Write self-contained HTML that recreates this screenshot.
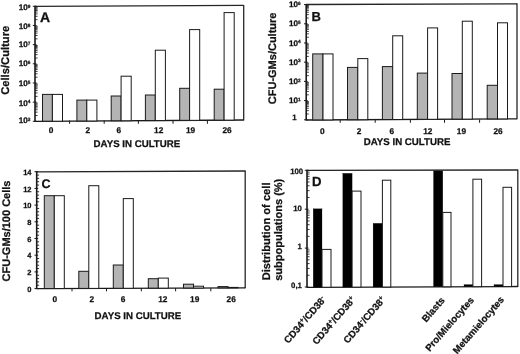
<!DOCTYPE html>
<html><head><meta charset="utf-8"><style>
html,body{margin:0;padding:0;background:#fff;}
body{width:520px;height:354px;overflow:hidden;font-family:"Liberation Sans", sans-serif;}
svg{display:block;filter:grayscale(1);}
</style></head><body>
<svg width="520" height="354" viewBox="0 0 520 354">
<rect width="520" height="354" fill="#ffffff"/>
<g font-family="Liberation Sans, sans-serif" font-weight="bold" fill="#111" stroke="#111" stroke-width="0.25" text-rendering="geometricPrecision">
<line x1="35.00" y1="6.30" x2="243.70" y2="5.40" stroke="#262626" stroke-width="1.3"/>
<line x1="243.70" y1="4.90" x2="243.70" y2="120.50" stroke="#262626" stroke-width="1.3"/>
<line x1="35.00" y1="121.30" x2="243.70" y2="120.00" stroke="#1a1a1a" stroke-width="1.3"/>
<line x1="35.00" y1="5.80" x2="35.00" y2="121.80" stroke="#1a1a1a" stroke-width="1.6"/>
<line x1="32.80" y1="121.30" x2="36.50" y2="121.30" stroke="#1a1a1a" stroke-width="1.0"/>
<line x1="35.00" y1="115.53" x2="37.60" y2="115.53" stroke="#1a1a1a" stroke-width="0.85"/>
<line x1="35.00" y1="112.15" x2="37.60" y2="112.15" stroke="#1a1a1a" stroke-width="0.85"/>
<line x1="35.00" y1="109.76" x2="37.60" y2="109.76" stroke="#1a1a1a" stroke-width="0.85"/>
<line x1="35.00" y1="107.90" x2="37.60" y2="107.90" stroke="#1a1a1a" stroke-width="0.85"/>
<line x1="35.00" y1="106.38" x2="37.60" y2="106.38" stroke="#1a1a1a" stroke-width="0.85"/>
<line x1="35.00" y1="105.10" x2="37.60" y2="105.10" stroke="#1a1a1a" stroke-width="0.85"/>
<line x1="35.00" y1="103.99" x2="37.60" y2="103.99" stroke="#1a1a1a" stroke-width="0.85"/>
<line x1="35.00" y1="103.01" x2="37.60" y2="103.01" stroke="#1a1a1a" stroke-width="0.85"/>
<line x1="32.80" y1="102.13" x2="36.50" y2="102.13" stroke="#1a1a1a" stroke-width="1.0"/>
<line x1="35.00" y1="96.36" x2="37.60" y2="96.36" stroke="#1a1a1a" stroke-width="0.85"/>
<line x1="35.00" y1="92.98" x2="37.60" y2="92.98" stroke="#1a1a1a" stroke-width="0.85"/>
<line x1="35.00" y1="90.59" x2="37.60" y2="90.59" stroke="#1a1a1a" stroke-width="0.85"/>
<line x1="35.00" y1="88.73" x2="37.60" y2="88.73" stroke="#1a1a1a" stroke-width="0.85"/>
<line x1="35.00" y1="87.21" x2="37.60" y2="87.21" stroke="#1a1a1a" stroke-width="0.85"/>
<line x1="35.00" y1="85.93" x2="37.60" y2="85.93" stroke="#1a1a1a" stroke-width="0.85"/>
<line x1="35.00" y1="84.82" x2="37.60" y2="84.82" stroke="#1a1a1a" stroke-width="0.85"/>
<line x1="35.00" y1="83.84" x2="37.60" y2="83.84" stroke="#1a1a1a" stroke-width="0.85"/>
<line x1="32.80" y1="82.96" x2="36.50" y2="82.96" stroke="#1a1a1a" stroke-width="1.0"/>
<line x1="35.00" y1="77.19" x2="37.60" y2="77.19" stroke="#1a1a1a" stroke-width="0.85"/>
<line x1="35.00" y1="73.81" x2="37.60" y2="73.81" stroke="#1a1a1a" stroke-width="0.85"/>
<line x1="35.00" y1="71.42" x2="37.60" y2="71.42" stroke="#1a1a1a" stroke-width="0.85"/>
<line x1="35.00" y1="69.56" x2="37.60" y2="69.56" stroke="#1a1a1a" stroke-width="0.85"/>
<line x1="35.00" y1="68.04" x2="37.60" y2="68.04" stroke="#1a1a1a" stroke-width="0.85"/>
<line x1="35.00" y1="66.76" x2="37.60" y2="66.76" stroke="#1a1a1a" stroke-width="0.85"/>
<line x1="35.00" y1="65.65" x2="37.60" y2="65.65" stroke="#1a1a1a" stroke-width="0.85"/>
<line x1="35.00" y1="64.67" x2="37.60" y2="64.67" stroke="#1a1a1a" stroke-width="0.85"/>
<line x1="32.80" y1="63.79" x2="36.50" y2="63.79" stroke="#1a1a1a" stroke-width="1.0"/>
<line x1="35.00" y1="58.02" x2="37.60" y2="58.02" stroke="#1a1a1a" stroke-width="0.85"/>
<line x1="35.00" y1="54.64" x2="37.60" y2="54.64" stroke="#1a1a1a" stroke-width="0.85"/>
<line x1="35.00" y1="52.25" x2="37.60" y2="52.25" stroke="#1a1a1a" stroke-width="0.85"/>
<line x1="35.00" y1="50.39" x2="37.60" y2="50.39" stroke="#1a1a1a" stroke-width="0.85"/>
<line x1="35.00" y1="48.87" x2="37.60" y2="48.87" stroke="#1a1a1a" stroke-width="0.85"/>
<line x1="35.00" y1="47.59" x2="37.60" y2="47.59" stroke="#1a1a1a" stroke-width="0.85"/>
<line x1="35.00" y1="46.48" x2="37.60" y2="46.48" stroke="#1a1a1a" stroke-width="0.85"/>
<line x1="35.00" y1="45.50" x2="37.60" y2="45.50" stroke="#1a1a1a" stroke-width="0.85"/>
<line x1="32.80" y1="44.62" x2="36.50" y2="44.62" stroke="#1a1a1a" stroke-width="1.0"/>
<line x1="35.00" y1="38.85" x2="37.60" y2="38.85" stroke="#1a1a1a" stroke-width="0.85"/>
<line x1="35.00" y1="35.47" x2="37.60" y2="35.47" stroke="#1a1a1a" stroke-width="0.85"/>
<line x1="35.00" y1="33.08" x2="37.60" y2="33.08" stroke="#1a1a1a" stroke-width="0.85"/>
<line x1="35.00" y1="31.22" x2="37.60" y2="31.22" stroke="#1a1a1a" stroke-width="0.85"/>
<line x1="35.00" y1="29.70" x2="37.60" y2="29.70" stroke="#1a1a1a" stroke-width="0.85"/>
<line x1="35.00" y1="28.42" x2="37.60" y2="28.42" stroke="#1a1a1a" stroke-width="0.85"/>
<line x1="35.00" y1="27.31" x2="37.60" y2="27.31" stroke="#1a1a1a" stroke-width="0.85"/>
<line x1="35.00" y1="26.33" x2="37.60" y2="26.33" stroke="#1a1a1a" stroke-width="0.85"/>
<line x1="32.80" y1="25.45" x2="36.50" y2="25.45" stroke="#1a1a1a" stroke-width="1.0"/>
<line x1="35.00" y1="19.68" x2="37.60" y2="19.68" stroke="#1a1a1a" stroke-width="0.85"/>
<line x1="35.00" y1="16.30" x2="37.60" y2="16.30" stroke="#1a1a1a" stroke-width="0.85"/>
<line x1="35.00" y1="13.91" x2="37.60" y2="13.91" stroke="#1a1a1a" stroke-width="0.85"/>
<line x1="35.00" y1="12.05" x2="37.60" y2="12.05" stroke="#1a1a1a" stroke-width="0.85"/>
<line x1="35.00" y1="10.53" x2="37.60" y2="10.53" stroke="#1a1a1a" stroke-width="0.85"/>
<line x1="35.00" y1="9.25" x2="37.60" y2="9.25" stroke="#1a1a1a" stroke-width="0.85"/>
<line x1="35.00" y1="8.14" x2="37.60" y2="8.14" stroke="#1a1a1a" stroke-width="0.85"/>
<line x1="35.00" y1="7.16" x2="37.60" y2="7.16" stroke="#1a1a1a" stroke-width="0.85"/>
<line x1="32.80" y1="6.28" x2="36.50" y2="6.28" stroke="#1a1a1a" stroke-width="1.0"/>
<text x="30.40" y="123.40" font-size="8.1" text-anchor="end">10<tspan font-size="4.7" dy="-2.4">3</tspan></text>
<text x="30.40" y="105.60" font-size="8.1" text-anchor="end">10<tspan font-size="4.7" dy="-2.4">4</tspan></text>
<text x="30.40" y="86.00" font-size="8.1" text-anchor="end">10<tspan font-size="4.7" dy="-2.4">5</tspan></text>
<text x="30.40" y="66.00" font-size="8.1" text-anchor="end">10<tspan font-size="4.7" dy="-2.4">6</tspan></text>
<text x="30.40" y="47.00" font-size="8.1" text-anchor="end">10<tspan font-size="4.7" dy="-2.4">7</tspan></text>
<text x="30.40" y="29.00" font-size="8.1" text-anchor="end">10<tspan font-size="4.7" dy="-2.4">8</tspan></text>
<text x="30.40" y="10.40" font-size="8.1" text-anchor="end">10<tspan font-size="4.7" dy="-2.4">9</tspan></text>
<line x1="69.60" y1="120.50" x2="69.60" y2="123.80" stroke="#1a1a1a" stroke-width="1.0"/>
<line x1="104.20" y1="120.50" x2="104.20" y2="123.80" stroke="#1a1a1a" stroke-width="1.0"/>
<line x1="138.40" y1="120.50" x2="138.40" y2="123.80" stroke="#1a1a1a" stroke-width="1.0"/>
<line x1="173.00" y1="120.50" x2="173.00" y2="123.80" stroke="#1a1a1a" stroke-width="1.0"/>
<line x1="207.40" y1="120.50" x2="207.40" y2="123.80" stroke="#1a1a1a" stroke-width="1.0"/>
<rect x="42.50" y="94.40" width="9.90" height="26.79" fill="#b4b4b4" stroke="#1a1a1a" stroke-width="1.0"/>
<rect x="52.40" y="94.40" width="10.10" height="26.79" fill="#fff" stroke="#1a1a1a" stroke-width="1.0"/>
<rect x="76.90" y="100.10" width="9.90" height="20.88" fill="#b4b4b4" stroke="#1a1a1a" stroke-width="1.0"/>
<rect x="86.80" y="100.10" width="10.10" height="20.88" fill="#fff" stroke="#1a1a1a" stroke-width="1.0"/>
<rect x="111.20" y="96.00" width="9.90" height="24.76" fill="#b4b4b4" stroke="#1a1a1a" stroke-width="1.0"/>
<rect x="121.10" y="76.20" width="10.10" height="44.56" fill="#fff" stroke="#1a1a1a" stroke-width="1.0"/>
<rect x="145.40" y="95.00" width="9.90" height="25.55" fill="#b4b4b4" stroke="#1a1a1a" stroke-width="1.0"/>
<rect x="155.30" y="50.20" width="10.10" height="70.35" fill="#fff" stroke="#1a1a1a" stroke-width="1.0"/>
<rect x="179.70" y="88.30" width="9.90" height="32.04" fill="#b4b4b4" stroke="#1a1a1a" stroke-width="1.0"/>
<rect x="189.60" y="29.60" width="10.10" height="90.74" fill="#fff" stroke="#1a1a1a" stroke-width="1.0"/>
<rect x="214.20" y="89.20" width="9.90" height="30.92" fill="#b4b4b4" stroke="#1a1a1a" stroke-width="1.0"/>
<rect x="224.10" y="12.60" width="10.10" height="107.52" fill="#fff" stroke="#1a1a1a" stroke-width="1.0"/>
<text x="51.10" y="133.00" font-size="8.3" text-anchor="middle" >0</text>
<text x="87.90" y="133.00" font-size="8.3" text-anchor="middle" >2</text>
<text x="118.80" y="133.00" font-size="8.3" text-anchor="middle" >6</text>
<text x="158.70" y="133.00" font-size="8.3" text-anchor="middle" >12</text>
<text x="190.50" y="133.00" font-size="8.3" text-anchor="middle" >19</text>
<text x="227.00" y="133.00" font-size="8.3" text-anchor="middle" >26</text>
<text x="136.90" y="146.60" font-size="9.7" text-anchor="middle" >DAYS IN CULTURE</text>
<text x="40.00" y="22.30" font-size="14" text-anchor="start" stroke="#111" stroke-width="0.3">A</text>
<text x="0" y="0" font-size="11.2" text-anchor="middle" transform="translate(9.2,60.3) rotate(-90)">Cells/Culture</text>
<line x1="306.20" y1="4.50" x2="517.00" y2="3.80" stroke="#262626" stroke-width="1.3"/>
<line x1="517.00" y1="3.30" x2="517.00" y2="119.30" stroke="#262626" stroke-width="1.3"/>
<line x1="306.20" y1="120.00" x2="517.00" y2="118.80" stroke="#1a1a1a" stroke-width="1.3"/>
<line x1="306.20" y1="4.00" x2="306.20" y2="120.50" stroke="#1a1a1a" stroke-width="1.6"/>
<line x1="304.00" y1="119.80" x2="307.70" y2="119.80" stroke="#1a1a1a" stroke-width="1.0"/>
<line x1="306.20" y1="114.02" x2="308.80" y2="114.02" stroke="#1a1a1a" stroke-width="0.85"/>
<line x1="306.20" y1="110.64" x2="308.80" y2="110.64" stroke="#1a1a1a" stroke-width="0.85"/>
<line x1="306.20" y1="108.24" x2="308.80" y2="108.24" stroke="#1a1a1a" stroke-width="0.85"/>
<line x1="306.20" y1="106.38" x2="308.80" y2="106.38" stroke="#1a1a1a" stroke-width="0.85"/>
<line x1="306.20" y1="104.86" x2="308.80" y2="104.86" stroke="#1a1a1a" stroke-width="0.85"/>
<line x1="306.20" y1="103.57" x2="308.80" y2="103.57" stroke="#1a1a1a" stroke-width="0.85"/>
<line x1="306.20" y1="102.46" x2="308.80" y2="102.46" stroke="#1a1a1a" stroke-width="0.85"/>
<line x1="306.20" y1="101.48" x2="308.80" y2="101.48" stroke="#1a1a1a" stroke-width="0.85"/>
<line x1="304.00" y1="100.60" x2="307.70" y2="100.60" stroke="#1a1a1a" stroke-width="1.0"/>
<line x1="306.20" y1="94.82" x2="308.80" y2="94.82" stroke="#1a1a1a" stroke-width="0.85"/>
<line x1="306.20" y1="91.44" x2="308.80" y2="91.44" stroke="#1a1a1a" stroke-width="0.85"/>
<line x1="306.20" y1="89.04" x2="308.80" y2="89.04" stroke="#1a1a1a" stroke-width="0.85"/>
<line x1="306.20" y1="87.18" x2="308.80" y2="87.18" stroke="#1a1a1a" stroke-width="0.85"/>
<line x1="306.20" y1="85.66" x2="308.80" y2="85.66" stroke="#1a1a1a" stroke-width="0.85"/>
<line x1="306.20" y1="84.37" x2="308.80" y2="84.37" stroke="#1a1a1a" stroke-width="0.85"/>
<line x1="306.20" y1="83.26" x2="308.80" y2="83.26" stroke="#1a1a1a" stroke-width="0.85"/>
<line x1="306.20" y1="82.28" x2="308.80" y2="82.28" stroke="#1a1a1a" stroke-width="0.85"/>
<line x1="304.00" y1="81.40" x2="307.70" y2="81.40" stroke="#1a1a1a" stroke-width="1.0"/>
<line x1="306.20" y1="75.62" x2="308.80" y2="75.62" stroke="#1a1a1a" stroke-width="0.85"/>
<line x1="306.20" y1="72.24" x2="308.80" y2="72.24" stroke="#1a1a1a" stroke-width="0.85"/>
<line x1="306.20" y1="69.84" x2="308.80" y2="69.84" stroke="#1a1a1a" stroke-width="0.85"/>
<line x1="306.20" y1="67.98" x2="308.80" y2="67.98" stroke="#1a1a1a" stroke-width="0.85"/>
<line x1="306.20" y1="66.46" x2="308.80" y2="66.46" stroke="#1a1a1a" stroke-width="0.85"/>
<line x1="306.20" y1="65.17" x2="308.80" y2="65.17" stroke="#1a1a1a" stroke-width="0.85"/>
<line x1="306.20" y1="64.06" x2="308.80" y2="64.06" stroke="#1a1a1a" stroke-width="0.85"/>
<line x1="306.20" y1="63.08" x2="308.80" y2="63.08" stroke="#1a1a1a" stroke-width="0.85"/>
<line x1="304.00" y1="62.20" x2="307.70" y2="62.20" stroke="#1a1a1a" stroke-width="1.0"/>
<line x1="306.20" y1="56.42" x2="308.80" y2="56.42" stroke="#1a1a1a" stroke-width="0.85"/>
<line x1="306.20" y1="53.04" x2="308.80" y2="53.04" stroke="#1a1a1a" stroke-width="0.85"/>
<line x1="306.20" y1="50.64" x2="308.80" y2="50.64" stroke="#1a1a1a" stroke-width="0.85"/>
<line x1="306.20" y1="48.78" x2="308.80" y2="48.78" stroke="#1a1a1a" stroke-width="0.85"/>
<line x1="306.20" y1="47.26" x2="308.80" y2="47.26" stroke="#1a1a1a" stroke-width="0.85"/>
<line x1="306.20" y1="45.97" x2="308.80" y2="45.97" stroke="#1a1a1a" stroke-width="0.85"/>
<line x1="306.20" y1="44.86" x2="308.80" y2="44.86" stroke="#1a1a1a" stroke-width="0.85"/>
<line x1="306.20" y1="43.88" x2="308.80" y2="43.88" stroke="#1a1a1a" stroke-width="0.85"/>
<line x1="304.00" y1="43.00" x2="307.70" y2="43.00" stroke="#1a1a1a" stroke-width="1.0"/>
<line x1="306.20" y1="37.22" x2="308.80" y2="37.22" stroke="#1a1a1a" stroke-width="0.85"/>
<line x1="306.20" y1="33.84" x2="308.80" y2="33.84" stroke="#1a1a1a" stroke-width="0.85"/>
<line x1="306.20" y1="31.44" x2="308.80" y2="31.44" stroke="#1a1a1a" stroke-width="0.85"/>
<line x1="306.20" y1="29.58" x2="308.80" y2="29.58" stroke="#1a1a1a" stroke-width="0.85"/>
<line x1="306.20" y1="28.06" x2="308.80" y2="28.06" stroke="#1a1a1a" stroke-width="0.85"/>
<line x1="306.20" y1="26.77" x2="308.80" y2="26.77" stroke="#1a1a1a" stroke-width="0.85"/>
<line x1="306.20" y1="25.66" x2="308.80" y2="25.66" stroke="#1a1a1a" stroke-width="0.85"/>
<line x1="306.20" y1="24.68" x2="308.80" y2="24.68" stroke="#1a1a1a" stroke-width="0.85"/>
<line x1="304.00" y1="23.80" x2="307.70" y2="23.80" stroke="#1a1a1a" stroke-width="1.0"/>
<line x1="306.20" y1="18.02" x2="308.80" y2="18.02" stroke="#1a1a1a" stroke-width="0.85"/>
<line x1="306.20" y1="14.64" x2="308.80" y2="14.64" stroke="#1a1a1a" stroke-width="0.85"/>
<line x1="306.20" y1="12.24" x2="308.80" y2="12.24" stroke="#1a1a1a" stroke-width="0.85"/>
<line x1="306.20" y1="10.38" x2="308.80" y2="10.38" stroke="#1a1a1a" stroke-width="0.85"/>
<line x1="306.20" y1="8.86" x2="308.80" y2="8.86" stroke="#1a1a1a" stroke-width="0.85"/>
<line x1="306.20" y1="7.57" x2="308.80" y2="7.57" stroke="#1a1a1a" stroke-width="0.85"/>
<line x1="306.20" y1="6.46" x2="308.80" y2="6.46" stroke="#1a1a1a" stroke-width="0.85"/>
<line x1="306.20" y1="5.48" x2="308.80" y2="5.48" stroke="#1a1a1a" stroke-width="0.85"/>
<line x1="304.00" y1="4.60" x2="307.70" y2="4.60" stroke="#1a1a1a" stroke-width="1.0"/>
<text x="296.60" y="119.60" font-size="7.8" text-anchor="end" >1</text>
<text x="300.60" y="103.20" font-size="8.1" text-anchor="end">10<tspan font-size="4.7" dy="-2.4">1</tspan></text>
<text x="300.60" y="84.00" font-size="8.1" text-anchor="end">10<tspan font-size="4.7" dy="-2.4">2</tspan></text>
<text x="300.60" y="64.80" font-size="8.1" text-anchor="end">10<tspan font-size="4.7" dy="-2.4">3</tspan></text>
<text x="300.60" y="45.60" font-size="8.1" text-anchor="end">10<tspan font-size="4.7" dy="-2.4">4</tspan></text>
<text x="300.60" y="26.40" font-size="8.1" text-anchor="end">10<tspan font-size="4.7" dy="-2.4">5</tspan></text>
<text x="300.60" y="7.20" font-size="8.1" text-anchor="end">10<tspan font-size="4.7" dy="-2.4">6</tspan></text>
<line x1="340.20" y1="119.50" x2="340.20" y2="122.80" stroke="#1a1a1a" stroke-width="1.0"/>
<line x1="375.20" y1="119.50" x2="375.20" y2="122.80" stroke="#1a1a1a" stroke-width="1.0"/>
<line x1="410.40" y1="119.50" x2="410.40" y2="122.80" stroke="#1a1a1a" stroke-width="1.0"/>
<line x1="444.50" y1="119.50" x2="444.50" y2="122.80" stroke="#1a1a1a" stroke-width="1.0"/>
<line x1="479.60" y1="119.50" x2="479.60" y2="122.80" stroke="#1a1a1a" stroke-width="1.0"/>
<rect x="312.70" y="53.90" width="10.30" height="66.01" fill="#b4b4b4" stroke="#1a1a1a" stroke-width="1.0"/>
<rect x="323.00" y="53.90" width="10.00" height="66.01" fill="#fff" stroke="#1a1a1a" stroke-width="1.0"/>
<rect x="347.50" y="67.40" width="10.30" height="52.31" fill="#b4b4b4" stroke="#1a1a1a" stroke-width="1.0"/>
<rect x="357.80" y="58.60" width="10.00" height="61.11" fill="#fff" stroke="#1a1a1a" stroke-width="1.0"/>
<rect x="382.40" y="66.60" width="10.30" height="52.91" fill="#b4b4b4" stroke="#1a1a1a" stroke-width="1.0"/>
<rect x="392.70" y="35.80" width="10.00" height="83.71" fill="#fff" stroke="#1a1a1a" stroke-width="1.0"/>
<rect x="417.30" y="73.10" width="10.30" height="46.21" fill="#b4b4b4" stroke="#1a1a1a" stroke-width="1.0"/>
<rect x="427.60" y="27.90" width="10.00" height="91.41" fill="#fff" stroke="#1a1a1a" stroke-width="1.0"/>
<rect x="452.00" y="73.50" width="10.30" height="45.61" fill="#b4b4b4" stroke="#1a1a1a" stroke-width="1.0"/>
<rect x="462.30" y="21.20" width="10.00" height="97.91" fill="#fff" stroke="#1a1a1a" stroke-width="1.0"/>
<rect x="487.20" y="85.30" width="10.30" height="33.61" fill="#b4b4b4" stroke="#1a1a1a" stroke-width="1.0"/>
<rect x="497.50" y="22.80" width="10.00" height="96.11" fill="#fff" stroke="#1a1a1a" stroke-width="1.0"/>
<text x="322.30" y="134.20" font-size="8.3" text-anchor="middle" >0</text>
<text x="359.00" y="134.20" font-size="8.3" text-anchor="middle" >2</text>
<text x="391.70" y="134.20" font-size="8.3" text-anchor="middle" >6</text>
<text x="427.80" y="134.20" font-size="8.3" text-anchor="middle" >12</text>
<text x="461.40" y="134.20" font-size="8.3" text-anchor="middle" >19</text>
<text x="498.00" y="134.20" font-size="8.3" text-anchor="middle" >26</text>
<text x="407.10" y="145.40" font-size="9.7" text-anchor="middle" >DAYS IN CULTURE</text>
<text x="311.60" y="20.80" font-size="13" text-anchor="start" >B</text>
<text x="0" y="0" font-size="11" text-anchor="middle" transform="translate(275.8,58.4) rotate(-90)">CFU-GMs/Culture</text>
<line x1="36.70" y1="171.80" x2="245.20" y2="171.00" stroke="#262626" stroke-width="1.3"/>
<line x1="245.20" y1="170.50" x2="245.20" y2="288.30" stroke="#262626" stroke-width="1.3"/>
<line x1="36.70" y1="288.60" x2="245.20" y2="287.80" stroke="#1a1a1a" stroke-width="1.3"/>
<line x1="36.70" y1="171.30" x2="36.70" y2="289.10" stroke="#1a1a1a" stroke-width="1.6"/>
<line x1="34.50" y1="288.60" x2="38.20" y2="288.60" stroke="#1a1a1a" stroke-width="1.0"/>
<text x="31.50" y="291.80" font-size="7.5" text-anchor="end" >0</text>
<line x1="34.50" y1="271.90" x2="38.20" y2="271.90" stroke="#1a1a1a" stroke-width="1.0"/>
<text x="31.50" y="275.10" font-size="7.5" text-anchor="end" >2</text>
<line x1="34.50" y1="255.20" x2="38.20" y2="255.20" stroke="#1a1a1a" stroke-width="1.0"/>
<text x="31.50" y="258.40" font-size="7.5" text-anchor="end" >4</text>
<line x1="34.50" y1="238.50" x2="38.20" y2="238.50" stroke="#1a1a1a" stroke-width="1.0"/>
<text x="31.50" y="241.70" font-size="7.5" text-anchor="end" >6</text>
<line x1="34.50" y1="221.80" x2="38.20" y2="221.80" stroke="#1a1a1a" stroke-width="1.0"/>
<text x="31.50" y="225.00" font-size="7.5" text-anchor="end" >8</text>
<line x1="34.50" y1="205.10" x2="38.20" y2="205.10" stroke="#1a1a1a" stroke-width="1.0"/>
<text x="31.50" y="208.30" font-size="7.5" text-anchor="end" >10</text>
<line x1="34.50" y1="188.40" x2="38.20" y2="188.40" stroke="#1a1a1a" stroke-width="1.0"/>
<text x="31.50" y="191.60" font-size="7.5" text-anchor="end" >12</text>
<line x1="34.50" y1="171.70" x2="38.20" y2="171.70" stroke="#1a1a1a" stroke-width="1.0"/>
<text x="31.50" y="174.90" font-size="7.5" text-anchor="end" >14</text>
<line x1="36.70" y1="285.26" x2="39.10" y2="285.26" stroke="#1a1a1a" stroke-width="0.9"/>
<line x1="36.70" y1="281.92" x2="39.10" y2="281.92" stroke="#1a1a1a" stroke-width="0.9"/>
<line x1="36.70" y1="278.58" x2="39.10" y2="278.58" stroke="#1a1a1a" stroke-width="0.9"/>
<line x1="36.70" y1="275.24" x2="39.10" y2="275.24" stroke="#1a1a1a" stroke-width="0.9"/>
<line x1="36.70" y1="268.56" x2="39.10" y2="268.56" stroke="#1a1a1a" stroke-width="0.9"/>
<line x1="36.70" y1="265.22" x2="39.10" y2="265.22" stroke="#1a1a1a" stroke-width="0.9"/>
<line x1="36.70" y1="261.88" x2="39.10" y2="261.88" stroke="#1a1a1a" stroke-width="0.9"/>
<line x1="36.70" y1="258.54" x2="39.10" y2="258.54" stroke="#1a1a1a" stroke-width="0.9"/>
<line x1="36.70" y1="251.86" x2="39.10" y2="251.86" stroke="#1a1a1a" stroke-width="0.9"/>
<line x1="36.70" y1="248.52" x2="39.10" y2="248.52" stroke="#1a1a1a" stroke-width="0.9"/>
<line x1="36.70" y1="245.18" x2="39.10" y2="245.18" stroke="#1a1a1a" stroke-width="0.9"/>
<line x1="36.70" y1="241.84" x2="39.10" y2="241.84" stroke="#1a1a1a" stroke-width="0.9"/>
<line x1="36.70" y1="235.16" x2="39.10" y2="235.16" stroke="#1a1a1a" stroke-width="0.9"/>
<line x1="36.70" y1="231.82" x2="39.10" y2="231.82" stroke="#1a1a1a" stroke-width="0.9"/>
<line x1="36.70" y1="228.48" x2="39.10" y2="228.48" stroke="#1a1a1a" stroke-width="0.9"/>
<line x1="36.70" y1="225.14" x2="39.10" y2="225.14" stroke="#1a1a1a" stroke-width="0.9"/>
<line x1="36.70" y1="218.46" x2="39.10" y2="218.46" stroke="#1a1a1a" stroke-width="0.9"/>
<line x1="36.70" y1="215.12" x2="39.10" y2="215.12" stroke="#1a1a1a" stroke-width="0.9"/>
<line x1="36.70" y1="211.78" x2="39.10" y2="211.78" stroke="#1a1a1a" stroke-width="0.9"/>
<line x1="36.70" y1="208.44" x2="39.10" y2="208.44" stroke="#1a1a1a" stroke-width="0.9"/>
<line x1="36.70" y1="201.76" x2="39.10" y2="201.76" stroke="#1a1a1a" stroke-width="0.9"/>
<line x1="36.70" y1="198.42" x2="39.10" y2="198.42" stroke="#1a1a1a" stroke-width="0.9"/>
<line x1="36.70" y1="195.08" x2="39.10" y2="195.08" stroke="#1a1a1a" stroke-width="0.9"/>
<line x1="36.70" y1="191.74" x2="39.10" y2="191.74" stroke="#1a1a1a" stroke-width="0.9"/>
<line x1="36.70" y1="185.06" x2="39.10" y2="185.06" stroke="#1a1a1a" stroke-width="0.9"/>
<line x1="36.70" y1="181.72" x2="39.10" y2="181.72" stroke="#1a1a1a" stroke-width="0.9"/>
<line x1="36.70" y1="178.38" x2="39.10" y2="178.38" stroke="#1a1a1a" stroke-width="0.9"/>
<line x1="36.70" y1="175.04" x2="39.10" y2="175.04" stroke="#1a1a1a" stroke-width="0.9"/>
<line x1="72.00" y1="288.00" x2="72.00" y2="291.30" stroke="#1a1a1a" stroke-width="1.0"/>
<line x1="106.50" y1="288.00" x2="106.50" y2="291.30" stroke="#1a1a1a" stroke-width="1.0"/>
<line x1="141.30" y1="288.00" x2="141.30" y2="291.30" stroke="#1a1a1a" stroke-width="1.0"/>
<line x1="175.60" y1="288.00" x2="175.60" y2="291.30" stroke="#1a1a1a" stroke-width="1.0"/>
<line x1="210.80" y1="288.00" x2="210.80" y2="291.30" stroke="#1a1a1a" stroke-width="1.0"/>
<rect x="44.30" y="195.70" width="10.00" height="92.83" fill="#b4b4b4" stroke="#1a1a1a" stroke-width="1.0"/>
<rect x="54.30" y="195.70" width="10.00" height="92.83" fill="#fff" stroke="#1a1a1a" stroke-width="1.0"/>
<rect x="78.80" y="271.30" width="10.00" height="17.10" fill="#b4b4b4" stroke="#1a1a1a" stroke-width="1.0"/>
<rect x="88.80" y="185.70" width="10.00" height="102.70" fill="#fff" stroke="#1a1a1a" stroke-width="1.0"/>
<rect x="113.30" y="265.00" width="10.00" height="23.27" fill="#b4b4b4" stroke="#1a1a1a" stroke-width="1.0"/>
<rect x="123.30" y="198.60" width="10.00" height="89.67" fill="#fff" stroke="#1a1a1a" stroke-width="1.0"/>
<rect x="148.30" y="278.70" width="10.00" height="9.43" fill="#b4b4b4" stroke="#1a1a1a" stroke-width="1.0"/>
<rect x="158.30" y="278.10" width="10.00" height="10.03" fill="#fff" stroke="#1a1a1a" stroke-width="1.0"/>
<rect x="183.50" y="284.20" width="10.00" height="3.80" fill="#b4b4b4" stroke="#1a1a1a" stroke-width="1.0"/>
<rect x="193.50" y="286.20" width="10.00" height="1.80" fill="#fff" stroke="#1a1a1a" stroke-width="1.0"/>
<rect x="218.00" y="286.60" width="10.00" height="1.27" fill="#b4b4b4" stroke="#1a1a1a" stroke-width="1.0"/>
<rect x="228.00" y="287.40" width="10.00" height="0.47" fill="#fff" stroke="#1a1a1a" stroke-width="1.0"/>
<text x="54.80" y="302.20" font-size="8.3" text-anchor="middle" >0</text>
<text x="91.80" y="302.20" font-size="8.3" text-anchor="middle" >2</text>
<text x="123.10" y="302.20" font-size="8.3" text-anchor="middle" >6</text>
<text x="162.80" y="302.20" font-size="8.3" text-anchor="middle" >12</text>
<text x="194.70" y="302.20" font-size="8.3" text-anchor="middle" >19</text>
<text x="231.20" y="302.20" font-size="8.3" text-anchor="middle" >26</text>
<text x="137.90" y="318.70" font-size="9.7" text-anchor="middle" >DAYS IN CULTURE</text>
<text x="41.40" y="188.00" font-size="12.5" text-anchor="start" >C</text>
<text x="0" y="0" font-size="11" text-anchor="middle" transform="translate(10.2,231) rotate(-90)">CFU-GMs/100 Cells</text>
<line x1="307.00" y1="170.30" x2="517.80" y2="170.00" stroke="#262626" stroke-width="1.3"/>
<line x1="517.80" y1="169.50" x2="517.80" y2="287.00" stroke="#262626" stroke-width="1.3"/>
<line x1="307.00" y1="287.30" x2="517.80" y2="286.50" stroke="#1a1a1a" stroke-width="1.3"/>
<line x1="307.00" y1="169.80" x2="307.00" y2="287.80" stroke="#1a1a1a" stroke-width="1.6"/>
<line x1="304.80" y1="287.00" x2="308.50" y2="287.00" stroke="#1a1a1a" stroke-width="1.0"/>
<line x1="307.00" y1="275.29" x2="309.60" y2="275.29" stroke="#1a1a1a" stroke-width="0.85"/>
<line x1="307.00" y1="268.44" x2="309.60" y2="268.44" stroke="#1a1a1a" stroke-width="0.85"/>
<line x1="307.00" y1="263.58" x2="309.60" y2="263.58" stroke="#1a1a1a" stroke-width="0.85"/>
<line x1="307.00" y1="259.81" x2="309.60" y2="259.81" stroke="#1a1a1a" stroke-width="0.85"/>
<line x1="307.00" y1="256.73" x2="309.60" y2="256.73" stroke="#1a1a1a" stroke-width="0.85"/>
<line x1="307.00" y1="254.13" x2="309.60" y2="254.13" stroke="#1a1a1a" stroke-width="0.85"/>
<line x1="307.00" y1="251.87" x2="309.60" y2="251.87" stroke="#1a1a1a" stroke-width="0.85"/>
<line x1="307.00" y1="249.88" x2="309.60" y2="249.88" stroke="#1a1a1a" stroke-width="0.85"/>
<line x1="304.80" y1="248.10" x2="308.50" y2="248.10" stroke="#1a1a1a" stroke-width="1.0"/>
<line x1="307.00" y1="236.39" x2="309.60" y2="236.39" stroke="#1a1a1a" stroke-width="0.85"/>
<line x1="307.00" y1="229.54" x2="309.60" y2="229.54" stroke="#1a1a1a" stroke-width="0.85"/>
<line x1="307.00" y1="224.68" x2="309.60" y2="224.68" stroke="#1a1a1a" stroke-width="0.85"/>
<line x1="307.00" y1="220.91" x2="309.60" y2="220.91" stroke="#1a1a1a" stroke-width="0.85"/>
<line x1="307.00" y1="217.83" x2="309.60" y2="217.83" stroke="#1a1a1a" stroke-width="0.85"/>
<line x1="307.00" y1="215.23" x2="309.60" y2="215.23" stroke="#1a1a1a" stroke-width="0.85"/>
<line x1="307.00" y1="212.97" x2="309.60" y2="212.97" stroke="#1a1a1a" stroke-width="0.85"/>
<line x1="307.00" y1="210.98" x2="309.60" y2="210.98" stroke="#1a1a1a" stroke-width="0.85"/>
<line x1="304.80" y1="209.20" x2="308.50" y2="209.20" stroke="#1a1a1a" stroke-width="1.0"/>
<line x1="307.00" y1="197.49" x2="309.60" y2="197.49" stroke="#1a1a1a" stroke-width="0.85"/>
<line x1="307.00" y1="190.64" x2="309.60" y2="190.64" stroke="#1a1a1a" stroke-width="0.85"/>
<line x1="307.00" y1="185.78" x2="309.60" y2="185.78" stroke="#1a1a1a" stroke-width="0.85"/>
<line x1="307.00" y1="182.01" x2="309.60" y2="182.01" stroke="#1a1a1a" stroke-width="0.85"/>
<line x1="307.00" y1="178.93" x2="309.60" y2="178.93" stroke="#1a1a1a" stroke-width="0.85"/>
<line x1="307.00" y1="176.33" x2="309.60" y2="176.33" stroke="#1a1a1a" stroke-width="0.85"/>
<line x1="307.00" y1="174.07" x2="309.60" y2="174.07" stroke="#1a1a1a" stroke-width="0.85"/>
<line x1="307.00" y1="172.08" x2="309.60" y2="172.08" stroke="#1a1a1a" stroke-width="0.85"/>
<line x1="304.80" y1="170.30" x2="308.50" y2="170.30" stroke="#1a1a1a" stroke-width="1.0"/>
<text x="301.90" y="288.30" font-size="7.8" text-anchor="end" >0,1</text>
<text x="301.90" y="249.40" font-size="7.8" text-anchor="end" >1</text>
<text x="301.90" y="210.50" font-size="7.8" text-anchor="end" >10</text>
<text x="303.20" y="173.90" font-size="7.8" text-anchor="end" >100</text>
<rect x="313.20" y="208.80" width="8.80" height="78.44" fill="#000"/>
<rect x="322.00" y="249.40" width="9.00" height="37.84" fill="#fff" stroke="#1a1a1a" stroke-width="1.0"/>
<rect x="342.80" y="173.30" width="9.30" height="113.83" fill="#000"/>
<rect x="352.10" y="191.10" width="8.90" height="96.03" fill="#fff" stroke="#1a1a1a" stroke-width="1.0"/>
<rect x="373.10" y="223.30" width="9.30" height="63.71" fill="#000"/>
<rect x="382.40" y="180.20" width="8.40" height="106.81" fill="#fff" stroke="#1a1a1a" stroke-width="1.0"/>
<rect x="433.50" y="170.90" width="9.30" height="115.88" fill="#000"/>
<rect x="442.80" y="212.40" width="8.20" height="74.38" fill="#fff" stroke="#1a1a1a" stroke-width="1.0"/>
<rect x="464.00" y="284.60" width="8.90" height="2.07" fill="#000"/>
<rect x="472.90" y="179.20" width="8.70" height="107.47" fill="#fff" stroke="#1a1a1a" stroke-width="1.0"/>
<rect x="494.00" y="284.60" width="9.00" height="1.96" fill="#000"/>
<rect x="503.00" y="187.30" width="8.60" height="99.26" fill="#fff" stroke="#1a1a1a" stroke-width="1.0"/>
<text x="312.00" y="186.30" font-size="13.2" text-anchor="start" >D</text>
<text x="0" y="0" font-size="11.15" text-anchor="start" transform="translate(269.8,280.3) rotate(-90)">Distribution of cell</text>
<text x="0" y="0" font-size="11" text-anchor="start" transform="translate(282.4,280.8) rotate(-90)">subpopulations (%)</text>
<text x="0" y="0" font-size="9.7" text-anchor="end" transform="translate(326.50,300.00) rotate(-49)">CD34<tspan font-size="6.5" dy="-3.4">+</tspan><tspan dy="3.4">/CD38</tspan><tspan font-size="6.5" dy="-3.4">-</tspan></text>
<text x="0" y="0" font-size="9.7" text-anchor="end" transform="translate(356.00,300.00) rotate(-49)">CD34<tspan font-size="6.5" dy="-3.4">+</tspan><tspan dy="3.4">/CD38</tspan><tspan font-size="6.5" dy="-3.4">+</tspan></text>
<text x="0" y="0" font-size="9.7" text-anchor="end" transform="translate(386.00,300.00) rotate(-49)">CD34<tspan font-size="6.5" dy="-3.4">-</tspan><tspan dy="3.4">/CD38</tspan><tspan font-size="6.5" dy="-3.4">+</tspan></text>
<text x="0" y="0" font-size="9.7" text-anchor="end" transform="translate(445.30,300.80) rotate(-49)">Blasts</text>
<text x="0" y="0" font-size="9.7" text-anchor="end" transform="translate(474.50,300.30) rotate(-49)">Pro/Mielocytes</text>
<text x="0" y="0" font-size="9.7" text-anchor="end" transform="translate(504.60,300.00) rotate(-49)">Metamielocytes</text>
</g></svg>
</body></html>
